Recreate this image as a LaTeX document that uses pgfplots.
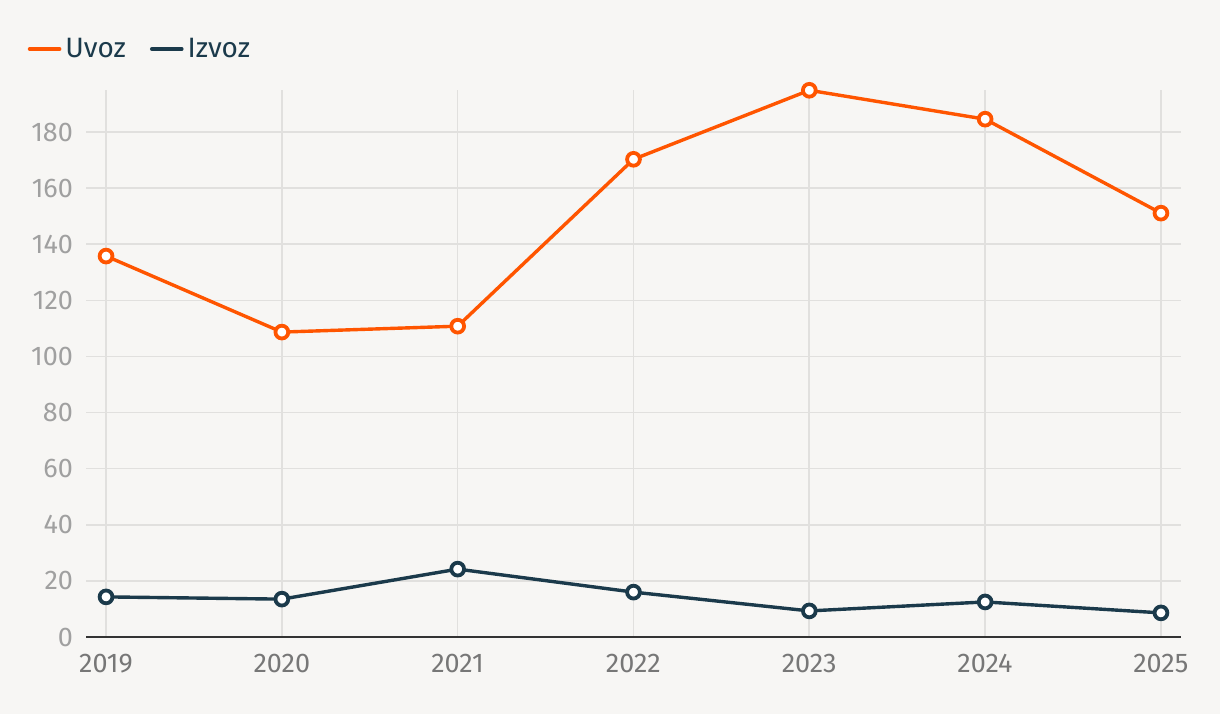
\documentclass[border=0pt]{standalone}
\usepackage{pgfplots}
\pgfplotsset{compat=1.18}
\usepackage{fontspec}
\setmainfont{Fira Sans}
\definecolor{bg}{HTML}{F7F6F4}
\definecolor{uvoz}{HTML}{FF5500}
\definecolor{izvoz}{HTML}{1B3A4B}
\definecolor{gridc}{HTML}{E1E0DE}
\definecolor{ytc}{HTML}{A0A0A0}
\definecolor{xtc}{HTML}{777777}
\begin{document}
\begin{tikzpicture}
\fill[bg] (0,0) rectangle (610pt,357pt);
\begin{axis}[
  at={(43pt,38.5pt)}, anchor=south west,
  scale only axis, width=547.5pt, height=273.5pt,
  xmin=2018.886, xmax=2025.114, ymin=0, ymax=195,
  xtick={2019,...,2025}, ytick={0,20,...,180},
  xticklabel style={/pgf/number format/1000 sep={}, color=xtc, font=\fontsize{13.5}{15}\selectfont},
  yticklabel style={color=ytc, font=\fontsize{13.5}{15}\selectfont},
  /pgf/number format/assume math mode=true,
  /pgf/number format/1000 sep={},
  xmajorgrids, ymajorgrids,
  grid style={gridc, line width=0.8pt},
  axis line style={draw=none},
  axis x line*=bottom, axis y line*=left,
  tick style={draw=none},
  major tick length=0pt,
  xticklabel shift=5pt, yticklabel shift=3pt,
  clip=false,
  legend style={at={(-0.059,1.075)}, anchor=west, draw=none, fill=none,
    legend columns=2, font=\fontsize{14}{16}\selectfont, text=izvoz,
    /tikz/every even column/.append style={column sep=10pt}},
  legend image code/.code={\draw[line width=1.8pt,line cap=round] (0pt,0pt) -- (15pt,0pt);},
]
\draw[color=black!80, line width=1pt] (axis cs:2018.886,0) -- (axis cs:2025.114,0);
\addplot[color=uvoz, line width=1.7pt, mark=*, mark size=3.2pt,
  mark options={fill=white, draw=uvoz, line width=1.9pt}]
  coordinates {(2019,135.8) (2020,108.7) (2021,110.8) (2022,170.3) (2023,194.9) (2024,184.6) (2025,151.1)};
\addlegendentry{Uvoz}
\addplot[color=izvoz, line width=1.7pt, mark=*, mark size=3.2pt,
  mark options={fill=white, draw=izvoz, line width=1.9pt}]
  coordinates {(2019,14.3) (2020,13.5) (2021,24.2) (2022,16.0) (2023,9.3) (2024,12.5) (2025,8.6)};
\addlegendentry{Izvoz}
\end{axis}
\pgfresetboundingbox
\path[use as bounding box] (0,0) rectangle (610pt,357pt);
\end{tikzpicture}
\end{document}
